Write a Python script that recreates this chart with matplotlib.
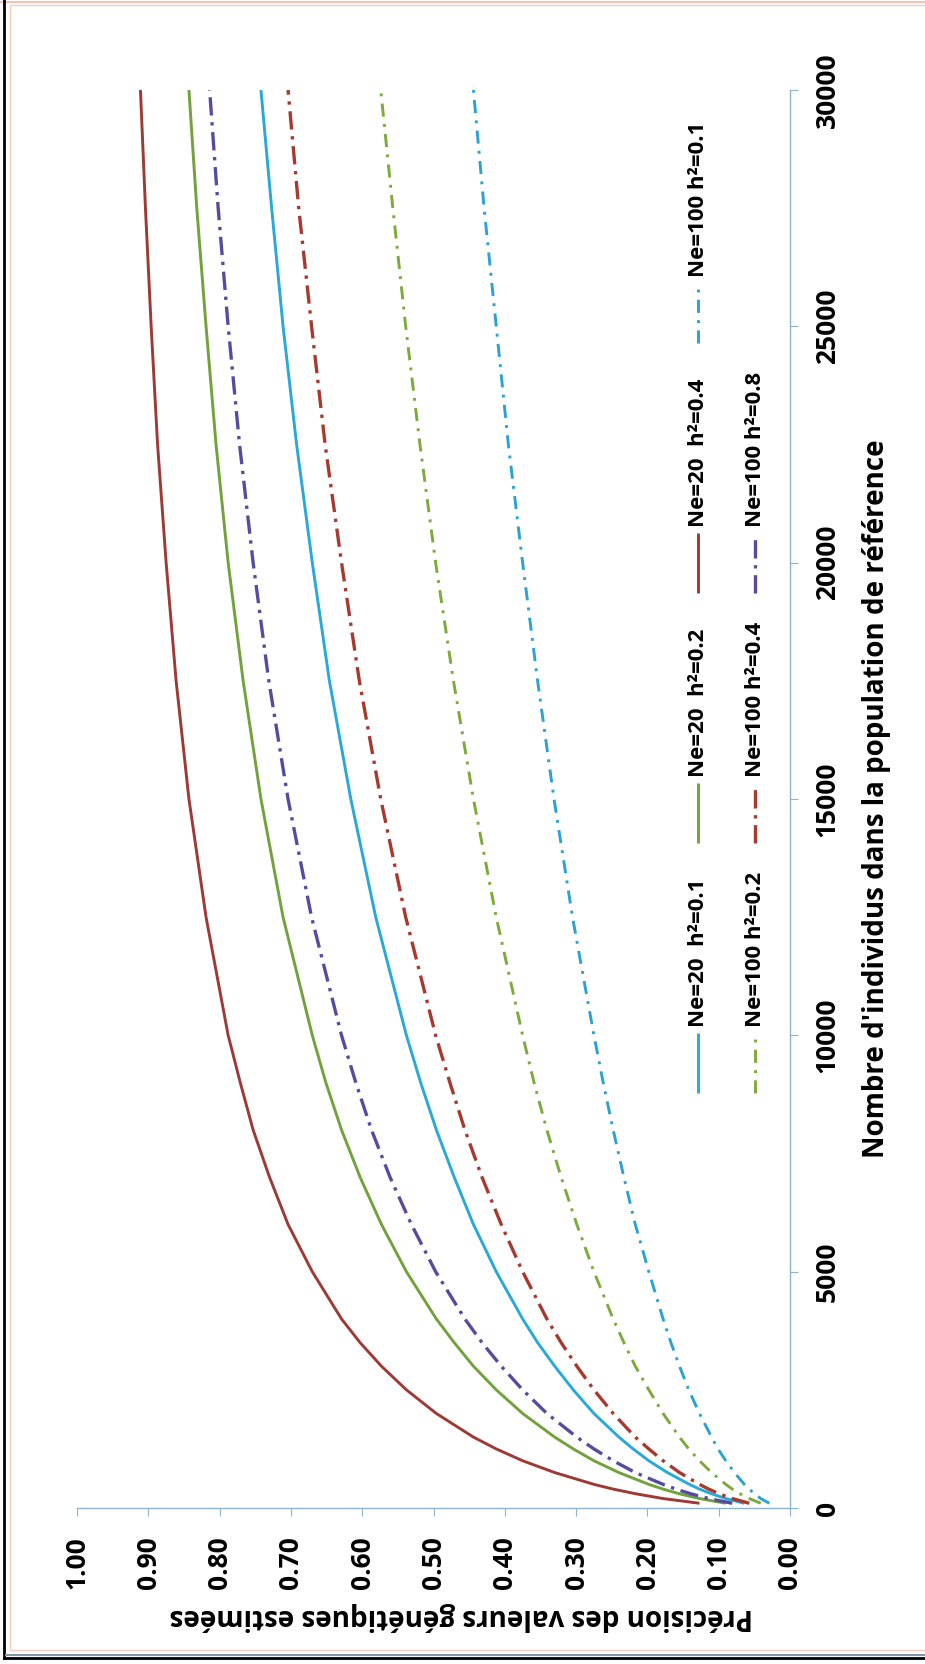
import matplotlib
matplotlib.use("Agg")
import matplotlib.pyplot as plt
from matplotlib.lines import Line2D
from matplotlib.patches import Rectangle
from matplotlib.ticker import FormatStrFormatter

plt.rcParams['font.family'] = ['Open Sans', 'DejaVu Sans']
plt.rcParams['font.weight'] = 'bold'
plt.rcParams['axes.labelweight'] = 'bold'

# taille de la population de reference
n_ref = [100, 200, 300, 400, 500, 750, 1000, 1250, 1500, 2000, 2500, 3000, 3500, 4000,
         5000, 6000, 7000, 8000, 9000, 10000, 12500, 15000, 17500, 20000, 22500,
         25000, 27500, 30000]

# precision des valeurs genetiques estimees
ne20_h01 = [0.064, 0.090, 0.110, 0.127, 0.141, 0.172, 0.198, 0.220, 0.240, 0.275,
            0.304, 0.330, 0.354, 0.375, 0.412, 0.444, 0.471, 0.496, 0.518, 0.538,
            0.581, 0.616, 0.646, 0.670, 0.692, 0.711, 0.727, 0.742]
ne20_h02 = [0.090, 0.127, 0.155, 0.178, 0.198, 0.240, 0.275, 0.304, 0.330, 0.375,
            0.412, 0.444, 0.471, 0.496, 0.538, 0.573, 0.603, 0.629, 0.651, 0.670,
            0.711, 0.742, 0.767, 0.788, 0.805, 0.819, 0.832, 0.843]
ne20_h04 = [0.127, 0.178, 0.216, 0.248, 0.275, 0.330, 0.375, 0.412, 0.444, 0.496,
            0.538, 0.573, 0.603, 0.629, 0.670, 0.704, 0.730, 0.753, 0.771, 0.788,
            0.819, 0.843, 0.861, 0.875, 0.887, 0.896, 0.904, 0.911]
ne100_h01 = [0.029, 0.041, 0.050, 0.057, 0.064, 0.078, 0.090, 0.101, 0.110, 0.127,
             0.142, 0.155, 0.167, 0.178, 0.198, 0.217, 0.233, 0.248, 0.262, 0.275,
             0.305, 0.331, 0.354, 0.375, 0.395, 0.412, 0.429, 0.444]
ne100_h02 = [0.041, 0.057, 0.070, 0.081, 0.090, 0.110, 0.127, 0.142, 0.155, 0.178,
             0.198, 0.217, 0.233, 0.248, 0.275, 0.299, 0.321, 0.341, 0.359, 0.375,
             0.412, 0.444, 0.472, 0.497, 0.519, 0.539, 0.557, 0.574]
ne100_h04 = [0.057, 0.081, 0.099, 0.114, 0.127, 0.155, 0.178, 0.198, 0.217, 0.248,
             0.275, 0.299, 0.321, 0.341, 0.375, 0.405, 0.432, 0.456, 0.477, 0.497,
             0.539, 0.574, 0.604, 0.629, 0.652, 0.671, 0.689, 0.704]
ne100_h08 = [0.081, 0.114, 0.139, 0.160, 0.178, 0.217, 0.248, 0.275, 0.299, 0.341,
             0.375, 0.405, 0.432, 0.456, 0.497, 0.531, 0.561, 0.587, 0.609, 0.629,
             0.671, 0.704, 0.731, 0.753, 0.772, 0.788, 0.802, 0.814]

series = [ne20_h01, ne20_h02, ne20_h04, ne100_h01, ne100_h02, ne100_h04, ne100_h08]
labels = ["Ne=20  h\u00b2=0.1", "Ne=20  h\u00b2=0.2", "Ne=20  h\u00b2=0.4",
          "Ne=100 h\u00b2=0.1", "Ne=100 h\u00b2=0.2", "Ne=100 h\u00b2=0.4",
          "Ne=100 h\u00b2=0.8"]
colors = ['#29A9D8', '#72A23C', '#9E3A35', '#2AA3D3', '#7CAA3B', '#A7392F', '#544D9E']
long_dd = (0, (5.5, 2, 1, 2))
short_dd = (0, (4.5, 2.5, 1, 2.5))
styles = ['-', '-', '-', short_dd, short_dd, long_dd, long_dd]
widths = [2.1, 2.1, 2.1, 2.1, 2.1, 2.4, 2.4]

prec_ticks = [0.0, 0.1, 0.2, 0.3, 0.4, 0.5, 0.6, 0.7, 0.8, 0.9, 1.0]
n_ticks = [0, 5000, 10000, 15000, 20000, 25000, 30000]

axis_col = '#8DB4CF'

W, H = 925, 1664
fig = plt.figure(figsize=(W / 100, H / 100), dpi=100)
ax = fig.add_axes([77 / W, 1 - 1508 / H, 713 / W, 1418 / H])

# graphique tourne de 90 degres : precision en horizontal, N en vertical
for vals, col, ls, lw in zip(series, colors, styles, widths):
    ax.plot(vals, n_ref, color=col, linestyle=ls, lw=lw, solid_capstyle='butt')

ax.set_xlim(1.0, 0.0)
ax.set_ylim(0, 30000)
ax.set_xticks(prec_ticks)
ax.xaxis.set_major_formatter(FormatStrFormatter('%.2f'))
ax.set_yticks(n_ticks)
ax.yaxis.tick_right()
for s in ['top', 'left']:
    ax.spines[s].set_visible(False)
for s in ['bottom', 'right']:
    ax.spines[s].set_color(axis_col)
    ax.spines[s].set_linewidth(1.0)
ax.tick_params(axis='x', labelrotation=90, labelsize=19, length=6, color=axis_col, pad=14)
ax.tick_params(axis='y', labelrotation=90, labelsize=19, length=6, color=axis_col, pad=11)
for lab in ax.get_yticklabels():
    lab.set_verticalalignment('center')

ax.set_xlabel("Pr\u00e9cision des valeurs g\u00e9n\u00e9tiques estim\u00e9es",
              fontsize=20, rotation=180)
ax.xaxis.set_label_coords(0.539, -0.066)
ax.yaxis.set_label_position('right')
ax.set_ylabel("Nombre d'individus dans la population de r\u00e9f\u00e9rence",
              fontsize=20, rotation=90)
ax.yaxis.set_label_coords(1.101, 0.5)

# legende (tournee elle aussi)
leg_x0, leg_dx = 0.871, 0.080
leg_y0, leg_dy, leg_len = 0.293, 0.1763, 0.042
for i, (lab, col, ls, lw) in enumerate(zip(labels, colors, styles, widths)):
    row, c = divmod(i, 4)
    x = leg_x0 + row * leg_dx
    y = leg_y0 + c * leg_dy
    ax.plot([x, x], [y, y + leg_len], transform=ax.transAxes, clip_on=False,
            color=col, linestyle=ls, lw=lw, solid_capstyle='butt')
    ax.text(x, y + leg_len + 0.004, lab, transform=ax.transAxes, rotation=90,
            ha='center', va='bottom', fontsize=16)

# cadre
fig.add_artist(Rectangle((10 / W, 14 / H), 1.0, 1 - 19 / H, transform=fig.transFigure,
                         fill=False, edgecolor='#F3CDBE', lw=1.0))
fig.add_artist(Line2D([0, 1], [1 - 1.5 / H, 1 - 1.5 / H], transform=fig.transFigure,
                      color='#F2C2B5', lw=1.5))
fig.add_artist(Line2D([4 / W, 4 / W], [6 / H, 1], transform=fig.transFigure,
                      color='black', lw=2.0))
fig.add_artist(Line2D([4 / W, 1], [6 / H, 6 / H], transform=fig.transFigure,
                      color='black', lw=2.0))
fig.add_artist(Line2D([6 / W, 1], [9 / H, 9 / H], transform=fig.transFigure,
                      color='#8196A8', lw=1.5))

fig.savefig('out.png', dpi=100, facecolor='white')
